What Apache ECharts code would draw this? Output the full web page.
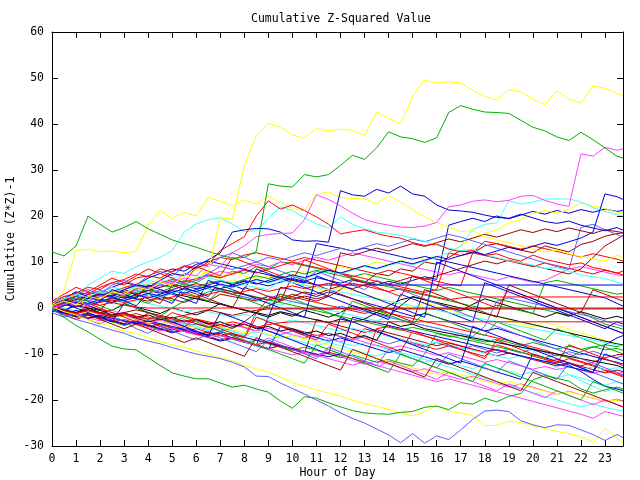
<!DOCTYPE html>
<html>
<head>
<meta charset="utf-8">
<title>Cumulative Z-Squared Value</title>
<script src="https://cdn.jsdelivr.net/npm/echarts@6/dist/echarts.min.js"></script>
<style>
html, body { margin: 0; padding: 0; background: #fff; }
#main { width: 640px; height: 480px; }
</style>
</head>
<body>
<div id="main"></div>
<script>
// sample times (hours), one reading every half hour plus the last quarter
const hours = [0,0.5,1,1.5,2,2.5,3,3.5,4,4.5,5,5.5,6,6.5,7,7.5,8,8.5,9,9.5,10,10.5,11,11.5,
  12,12.5,13,13.5,14,14.5,15,15.5,16,16.5,17,17.5,18,18.5,19,19.5,20,20.5,21,21.5,22,22.5,23,23.5,23.75];
const xTicks = [0,1,2,3,4,5,6,7,8,9,10,11,12,13,14,15,16,17,18,19,20,21,22,23];
const yTicks = [-30,-20,-10,0,10,20,30,40,50,60];

// colours
const RED = '#ff0000', GREEN = '#00b000', BLUE = '#0000d8', MAGENTA = '#ff40ff', CYAN = '#40ffff',
      DARKRED = '#a00000', YELLOW = '#ffff00', BLACK = '#000000', SLATE = '#6060ff';

// the lines that stand out
const yTop = [0.5,1.5,0.8,2.5,2,3.5,3,4.5,
  4,5.5,5,7,6.5,8,19.6,19.3,
  31,37.5,40.2,39.3,37.6,37,39,38.5,
  38.9,38.6,37.5,42.6,41.2,40,46,49.6,
  48.9,49.2,48.9,47.3,46,45.2,47.5,47,
  45.4,44.2,47.2,45.4,44.5,48.3,47.8,46.6, 46.2];
const gTop = [12.2,11.3,13.5,20,18.2,16.5,17.5,18.8,
  17.2,16,14.8,14,13.2,12.3,11.5,10.8,
  11,12.3,27,26.5,26.3,29,28.5,29,
  31,33.2,32.3,34.8,38.3,37.2,36.8,36,
  37,42.5,44,43.2,42.6,42.5,42.3,40.8,
  39.3,38.5,37.2,36.4,38.2,36.6,34.8,33, 32.6];
const mJump = [0,0.8,1.5,0.5,2,3.5,2.8,4.5,
  4,6,5.2,7.5,7,9.5,9,12,
  13.5,15.5,16,16.2,16.3,19.2,24.6,23.6,
  22.2,20.6,19.2,18.5,18,17.6,17.5,17.8,
  18.6,22,22.4,23.2,23.5,23.1,23.4,24.3,
  24.5,23.4,22.6,22.1,33.5,33,34.9,34.3, 34.6];
const gBot = [0,-2,-3.8,-5.2,-6.8,-8.3,-8.9,-9.1,
  -10.8,-12.5,-14.1,-14.8,-15.4,-15.4,-16.3,-17.2,
  -16.8,-17.6,-18.3,-20.2,-21.8,-19.3,-19.6,-20.6,
  -21.5,-22.3,-22.8,-23,-23.1,-22.7,-22.5,-21.6,
  -21.3,-22.1,-20.6,-20.9,-19.6,-20.4,-19.2,-18.6,
  -15.6,-14.7,-15.3,-15.9,-17.6,-18.5,-17.8,-17.2, -17.6];
const bBot = [-0.5,-1.5,-2.5,-3.2,-4,-4.8,-5.5,-6.5,
  -7.2,-7.8,-8.6,-9.3,-10,-10.5,-11,-11.8,
  -12.8,-14.8,-14.9,-16.3,-17.5,-18.7,-20,-21.3,
  -22.8,-24,-25,-26.3,-27.6,-29.3,-27.3,-29.4,
  -27.8,-28.6,-26.5,-24.2,-22.4,-22.2,-22.5,-24.5,
  -25.4,-26,-25.4,-25.5,-26.5,-27.5,-28.8,-27.5, -28.2];
const yBot = [0.3,-0.8,-1.5,-2.6,-3.2,-4.2,-5,-5.5,
  -6.5,-7.3,-8,-8.5,-9.4,-10,-10.8,-11.5,
  -12.5,-13.2,-14,-15,-16.2,-17,-17.8,-18.5,
  -19.2,-20,-20.8,-21.4,-22,-22.8,-23.5,-22.5,
  -21.3,-22.4,-22.8,-23.4,-25.6,-25.5,-24.6,-24.9,
  -25.6,-26.2,-26.8,-27.3,-28,-29.2,-26.2,-28.3, -29.3];
const dbTall = [0.5,1.5,1,2.2,3,2.5,4,5,
  4.5,6,7.5,7,9,10.5,12,16.5,
  17,17.3,17.2,16.5,14.8,14.5,14.6,14.3,
  25.5,24.6,24.3,25.8,25,26.5,24.8,24.3,
  22.4,21.3,21.1,20.8,20.2,19.7,19.5,20.4,
  19.6,18.8,18.4,18.9,18,17.4,16.8,17.5, 16.9];
const dbJump = [-0.5,0.5,1.2,0.6,1.4,2.2,1.6,2.4,
  3.2,2.6,3.4,4.2,3.6,4.4,5.2,4.6,
  5.4,6.2,5.6,6.4,7.2,6.6,7.4,8.2,
  7.6,8.4,9.2,8.6,9.4,10.2,9.6,10.4,
  11.2,10.6,11.4,12.2,11.6,12.4,13.2,12.6,
  13.4,14.2,13.6,14.4,15.2,16.5,24.8,24.2, 23.6];
const cUp = [1,2,3,5,6.5,8,7.5,9,
  10,11,12.5,16.5,18.3,19.2,19.6,18.3,
  16.6,16.8,19.5,22,21.2,19.6,18.3,17.4,
  19.8,18.2,17.2,16.5,16.2,15.8,15.2,14.5,
  13.6,13,12.4,12.8,11.5,11,10.3,9.8,
  9.3,8.6,8.8,8,7.2,6.8,6.4,5.6, 5.3];
const cRight = [-0.3,0.5,1.2,0.6,1.4,2.2,1.6,2.4,
  3,2.4,3.2,4,3.4,4.2,5,4.4,
  5.2,6,5.4,6.2,7,6.4,7.2,8,
  7.4,8.2,9,8.4,9.2,10,9.4,10.2,
  11,12,13.5,17,18.2,18.5,23.3,22.6,
  23,23.7,23.7,23.7,23.1,21.8,21,20.3, 20];
const yMid = [0.5,4,12.5,12.8,12.2,12.4,12,12.3,
  18,21.2,19.5,20.8,20,24,23.2,22.2,
  23.5,22.6,24.3,23,21.6,21.2,24.8,25.2,
  24,23.8,23.7,22.6,24.5,23,21.3,19.8,
  18.5,17.6,16.6,16.8,15.5,14.8,14.2,13.5,
  12.8,12.2,12.6,11.8,11.2,10.7,10.2,11.5, 11];
const rUp = [1,2.5,3.2,4.5,4,5.5,6.2,7.4,
  6.8,8.5,7.8,9.2,8.8,9.5,12.5,14,
  15.5,20,23.3,21.5,22.4,21.2,19.8,18.2,
  16.1,16.6,17,16.2,15.6,15.2,14.2,13.6,
  13.9,12.8,12.2,12.5,11.4,11.8,10.8,10.2,
  11.5,10.6,10,9.4,9.8,8.8,8.3,7.6, 7.2];

// lines that go flat
const hBlue5 = [0,0.8,0.2,1,1.8,1.2,2,2.8,
  2.2,3,3.8,3.2,4,4.8,4.2,5,
  5.8,5.2,6,6.8,6.2,5.6,5,5,
  5,5,5,5,5,5,5,5,
  5,5,5,5,5,5,5,5,
  5,5,5,5,5,5,5,5, 5];
const hRed25 = [0,0.6,1.2,0.6,1.2,1.8,1.2,1.8,
  2.4,1.8,2.4,3,2.4,3,3.6,3,
  3.6,4.2,3.6,4.2,4.8,4.2,4.8,5.4,
  4.8,5.4,4.8,4.2,3.6,4.2,3.6,3,
  2.4,1.8,2.2,2.4,2.4,2.4,2.4,2.4,
  2.4,2.4,2.4,2.4,2.4,2.4,2.4,2.4, 2.4];
const hRed0 = [0.5,1,0.4,1,0.6,1.2,0.6,0.2,
  0,0,0,0,0,0,0,0,
  0,0,0,0,0,0,0,0,
  0,0,0,0,0,0,0,0,
  0,0,0,0,0,0,0,0,
  0,0,0,0,0,0,0,0, 0];
const hDark0 = [0,-0.5,-1,-0.4,-1,-1.6,-1,-0.4,
  -1,-1.6,-2.2,-1.6,-1,-0.4,-1,-1.6,
  -1,-0.5,-0.2,-0.2,-0.2,-0.2,-0.2,-0.2,
  -0.2,-0.2,-0.2,-0.2,-0.2,-0.2,-0.2,-0.2,
  -0.2,-0.2,-0.2,-0.2,-0.2,-0.2,-0.2,-0.2,
  -0.2,-0.2,-0.2,-0.2,-0.2,-0.2,-0.2,-0.2, -0.2];
const hRed3 = [0,-0.6,-1.2,-0.6,-1.2,-1.8,-1.2,-1.8,
  -2.4,-1.8,-2.4,-3,-2.4,-3,-3.6,-3,
  -3.6,-4.2,-3.6,-3.2,-3,-3,-3,-3,
  -3,-3,-3,-3,-3,-3,-3,-3,
  -3,-3,-3,-3,-3,-3,-3,-3,
  -3,-3,-3,-3,-3,-3,-3,-3, -3];

// the tangle
const p1 = [0,-0.5,-1,0.5,-0.3,-1,-1.8,-1.2,
  -2,-2.8,-1,-1.8,-2.5,-3.2,-4,-3.5,
  -4.2,-5,-3,-3.8,-4.5,-5.2,-6,-5.5,
  -6.2,-7,-4.5,-5.2,-6,-6.8,-7.5,-8.3,
  -9,-8.2,-9,-9.8,-10.5,-8,-8.8,-9.6,
  -10.4,-11.2,-12,-11,-11.8,-12.6,-13.4,-14.2, -14.8];
const p2 = [0.5,1.2,2,1.5,2.8,3.5,3,4.2,
  4,5,4.5,6,5.5,7,6.5,8,
  7.5,9,8.5,10,9.8,9.2,8.6,8,
  7.4,6.8,7.5,6.8,6.2,5.6,5,4.4,
  3.8,4.5,3.8,3.2,2.6,2,1.4,0.8,
  0.2,-0.4,-1,-1.6,-1,-2.2,-3.5,-4.2, -4.6];
const p3 = [-0.5,-1.2,-0.5,-1.5,-2.2,-1.8,-2.8,-3.5,
  -3,-4,-4.8,-4.2,-5.2,-6,-5.5,-6.5,
  -7.2,-8,-2,4.5,4,3.2,2.5,3.5,
  2.8,2,1.2,0.5,-0.2,-1,-1.8,-1.2,
  -2,-2.8,-3.5,-4.2,-5,-4.4,-5.2,-6,
  -6.8,-7.5,-8.2,-9,-9.8,-10.5,-11.2,-11.8, -12.2];
const p4 = [0,-0.8,-1.5,-1.2,-2,-2.8,-3.5,-3,
  -3.8,-4.5,-5.2,-4.6,-5.4,-6.2,-7,-6.4,
  -7.2,-8,-8.8,-8.2,-9,-9.8,-10.5,-9.8,
  -10.6,-11.4,-12.2,-11.5,-12.2,-13,-13.8,-13.2,
  -14,-14.8,-15.5,-14.8,-15.6,-16.4,-17.2,-16.5,
  -17.2,-18,-18.8,-18.1,-18.9,-19.6,-20.4,-19.8, -20.2];
const p5 = [0.5,0,-0.8,-0.2,-1,-1.8,-1.2,-2,
  -2.8,-3.5,-2.5,-3.2,-4,-4.8,-4.2,-5,
  -5.8,-6.5,-7.2,-6,-6.8,-7.5,-8.2,-7.5,
  -8.2,-9,-9.8,-10.5,-9.5,-10.2,-11,-11.8,
  -11,-11.8,-12.5,-13.2,-12.2,-13,-13.8,-14.5,
  -13.8,-14.5,-15.2,-14.5,-15.2,-16,-16.8,-16, -16.4];
const p6 = [0,0.8,1.5,1,2,1.5,2.5,2,
  1.5,2.5,2,1.2,2.2,1.5,3,2.5,
  2,1.5,2.5,1.8,3,2.2,1.5,2.5,
  4,6,5.5,7.5,7,8.5,8,10,
  9.5,11,12.5,12,13.5,14,13.2,12.6,
  12,13.5,12.8,12.2,13.8,14.5,15.6,16.2, 16.3];
const p7 = [0.5,1.5,1,2.5,3.5,3,4.5,5.5,
  5,6.5,7.5,7,8.2,7.5,6.8,7.8,
  7,6.2,5.5,6.5,5.8,5,4.2,3.5,
  4.5,3.8,3,2.2,1.5,0.8,0,1.2,
  0.4,-0.4,-1.2,-2,-1,-1.8,-2.6,-3.4,
  -4.2,-3,-3.8,-4.6,-5.4,-6.2,-7,-7.8, -8.2];
const p8 = [0,-0.5,0.5,0,-1,-0.5,0.8,0.2,
  -0.5,-1.2,0,-0.8,-1.5,-0.5,1,0.2,
  -0.5,-1.2,-2,-1,-1.8,-0.5,-1.2,-2,
  -1,0.5,-0.2,-1,-1.8,0.5,2.5,1.8,
  1,0.2,-0.6,0.8,2,1.2,0.4,-0.4,
  -1.2,-2,-1,-1.8,-0.8,-1.6,-2.4,-1.8, -2.2];
const p9 = [0.5,-0.2,-1,-0.5,-1.3,-2,-1.5,-2.3,
  -3,-2.4,-3.2,-4,-3.5,-4.2,-5,-4.4,
  -3.5,-4.3,-5,-5.8,-5,-5.8,-6.5,-5.5,
  -6.2,-7,-6.2,-7,-7.8,-7,-7.8,-8.5,
  -7.5,-8.3,-9,-8.2,-9,-9.8,-9,-9.8,
  -8.8,-9.6,-10.4,-9.5,-10.2,-9.4,-10.2,-10.8, -10.4];
const p10 = [1,2,3.5,3,4.5,5.5,5,6.5,
  7,6.5,8,9,8.5,10,11,10.5,
  11.5,12,11.4,10.8,10.2,11,10.4,9.8,
  9.2,8.6,8,7.4,8.2,7.6,7,6.4,
  5.8,5.2,4.8,12,14.5,14,13.4,12.8,
  13.5,12.9,12.3,11.7,11.1,11.8,11.2,10.6, 10.2];
const p11 = [-0.5,-1.2,-2,-1.5,-2.3,-3,-3.8,-3.2,
  -4,-4.8,-4.2,-5,-5.8,-5.2,-6,-6.8,
  -7.5,-7,-7.8,-8.5,-9.2,-8.5,-9.2,-10,
  -10.8,-10.2,-11,-11.8,-11.2,-12,-12.6,-10,
  -5.5,-6.2,-6,-6.8,-7.4,-6.8,-7.5,-8.2,
  -7.5,-8.2,-8.9,-8.3,-9,-8.4,-9.1,-8.8, -9.2];
const p12 = [0,0.8,1.5,1,2,2.8,2.2,3,
  3.8,3.2,4,4.8,4.2,5,5.8,5.2,
  6,5.4,4.8,5.6,6.4,5.8,6.6,6,
  5.4,6.2,5.6,5,5.8,5.2,6,6.8,
  6.2,18,18.8,19.5,18.8,20,19.4,20.2,
  21,20.4,21.2,20.6,21.4,20.8,21.5,21, 21.2];
const p13 = [0,-0.6,-1.2,-0.5,-1.1,-1.8,-1.2,-1.9,
  -2.6,-2,-2.7,-3.4,-2.8,-3.5,-4.2,-3.6,
  -4.3,-5,-4.4,-5.1,-5.8,-6.5,-5.9,-6.6,
  -7.3,-6.7,-7.4,-8.1,-8.8,-8.2,-8.9,-9.6,
  -10.3,-9.7,-10.4,-11.1,-11.8,-11.2,-11.9,-12.6,
  -13.3,-12.7,-13.4,-12.8,-13.5,-14.2,-13.6,-14.3, -14];
const p14 = [0.5,1.5,2.5,2,3,4,3.5,4.5,
  5.5,5,6,5.4,4.8,4.2,3.6,3,
  2.4,1.8,1.2,0.6,1.4,0.8,0.2,-0.4,
  -1,-1.6,-2.2,-2.8,-2,-2.6,-3.2,-3.8,
  -4.4,-5,-5.6,-6.2,-6.8,-7.4,-8,-8.6,
  -9.2,-11.5,-13,-14.5,-15.8,-17,-18.2,-17.5, -17.8];
const p15 = [0,-0.8,-1.5,-2.3,-1.8,-2.6,-3.4,-2.8,
  -3.6,-4.4,-5.2,-4.6,-5.4,-6.2,-7,-6.4,
  -7.2,-8,-8.8,-8.2,-9,-9.8,-2.5,-3.2,
  -3.9,-4.6,-5.3,-4.7,-5.4,-6.1,-6.8,-7.5,
  -8.2,-7.6,-8.3,-9,-9.7,-10.4,-9.8,-10.5,
  -11.2,-11.9,-12.6,-12,-12.7,-13.4,-14.1,-13.5, -13.8];
const p16 = [0,1,0.5,1.8,2.6,2,3,2.4,
  3.2,4,3.4,4.2,5,4.4,5.2,6,
  5.4,6.2,7,6.4,7.2,8,7.4,8.2,
  9,8.4,9.2,10,9.4,10.2,11,10.4,
  11.2,12,13.5,15,16.2,17,18.5,19.2,
  20.5,21.2,20.6,21.4,22.8,22.2,21.6,20.8, 20.6];
const p17 = [-0.5,-1.2,-2,-1.5,-2.3,-3,-2.5,-3.3,
  -4,-3.5,-4.3,-5,-4.5,-5.3,-6,-5.5,
  -6.2,-1,2,3,2.4,1.8,1.2,0.6,
  0,-0.6,-1.2,-0.5,-1.1,-1.7,-2.3,-2.9,
  -3.5,-4.1,-4.7,-5.3,-5.9,-6.5,-7.1,-7.8,
  -8.5,-9.2,-10,-10.8,-11.6,-12.4,-13.6,-14.5, -15];
const p18 = [0.5,1.2,2,1.5,2.5,3.2,2.6,3.4,
  4,3.5,4.5,5.2,4.6,5.4,6,5.4,
  6.2,7,6.4,7.2,8,7.4,8.2,7.6,
  7,6.4,5.8,5.2,4.6,4,3.4,2.8,
  2.2,1.6,1,0.4,-0.2,0.6,0,-0.6,
  -1.2,5.5,6,5.4,4.8,4.2,3.6,3, 3.2];
const p19 = [-0.5,-1,-1.8,-1.2,-2,-2.8,-3.6,-3,
  -3.8,-4.6,-5.4,-4.8,-5.6,-6.4,-7.2,-6.6,
  -7.4,-8.2,-9,-4,-4.8,-5.6,-6.4,-7.2,
  -6.5,-7.3,-8.1,-8.9,-9.7,-9,-9.8,-10.6,
  -11.4,-12.2,-11.5,-12.3,-13.1,-13.9,-14.7,-15.5,
  -10,-10.8,-11.6,-12.4,-13.8,-15.5,-17,-17.6, -18];
const p20 = [0.5,1,2,1.5,2.5,3.5,3,4,
  5,4.5,5.5,6.5,6,7,8,7.5,
  8.5,9.5,9,10,9.4,10.4,11,10.4,
  11.2,12,11.4,10.8,10.2,9.6,9,8.4,
  7.8,7.2,7.8,7.2,6.6,6,6.8,6.2,
  5.6,6,7.2,8.5,9,8.4,7.8,7.2, 7];
const p21 = [0,-0.6,-1.2,-0.6,-1.3,-2,-2.7,-2.1,
  -2.8,-3.5,-2.9,-3.6,-4.3,-5,-4.4,-5.1,
  -5.8,-5.2,-5.9,-6.6,-6,-6.7,-7.4,-6.8,
  -7.5,-8.2,-7.6,-8.3,-9,-9.7,-10.4,-11.2,
  -12,-12.8,-13.6,-14.4,-15.2,-16,-16.8,-17.6,
  -18.4,-19.2,-20,-20.8,-21.5,-20.8,-21.6,-22.2, -22.4];
const p22 = [1,1.8,1.2,2,2.8,2.2,3,3.8,
  3.2,4,3.4,4.2,4.8,4.2,3.6,3,
  2.4,1.8,2.6,2,1.4,0.8,0.2,-0.4,
  0.4,-0.2,-0.8,-1.4,-2,-2.6,-3.2,-3.8,
  -4.4,-5,-5.6,-6.2,-4,1.5,2.2,1.6,
  1,0.4,-0.2,-0.8,-1.4,-2,-2.8,-3.6, -4];
const p23 = [0,-0.5,-1,-0.4,-1.2,-2,-1.4,-2.2,
  -3,-2.4,-3.2,-2.6,-3.4,-4.2,-3.6,-4.4,
  -3,-1,0.5,1.5,2.5,3.5,3,4,
  4.8,4.2,5,5.8,5.2,6,6.8,6.2,
  7,7.8,8.6,9.4,10.2,9.6,10.4,9.8,
  9.2,8.6,8,7.4,8.5,11,13.5,15, 15.8];
const p24 = [0,0.6,1.2,0.6,1.4,2.2,1.6,2.4,
  3,2.4,3.2,2.6,2,1.4,0.8,0.2,
  -0.4,-1,-1.6,-0.8,-1.4,-2,-2.6,-3.2,
  -2.4,-3,-2.4,-1,0.5,1.8,2.4,1.8,
  1.2,0.6,0,-0.6,-1.2,-1.8,-2.4,-3,
  -3.6,-4.2,-4.8,-5.4,-6,-6.6,-7.2,-7.8, -8];
const p25 = [0,-0.7,-1.4,-2.1,-1.5,-2.2,-2.9,-3.6,
  -3,-3.7,-4.4,-5.1,-5.8,-5.2,-5.9,-6.6,
  -7.3,-8,-7.4,-8.1,-8.8,-9.5,-10.2,-9.6,
  -10.3,-11,-11.7,-4.5,-4,-4.7,-5.4,-6.1,
  -6.8,-7.5,-8.2,-8.9,-9.6,-9,-9.7,-10.4,
  -11.1,-11.8,-11.2,-11.9,-12.6,-11.8,-10.8,-10.2, -10];
const p26 = [0.5,1.5,2.5,2,3.5,4.5,5.5,5,
  6.5,7.5,8.5,8,9.5,10.2,9.6,9,
  8.4,7.8,7.2,6.6,6,5.4,14,13.5,
  13,12.4,13,12.4,11.8,11.2,10.6,11.2,
  10.6,10,9.4,8.8,8.2,7.6,7,6.4,
  5.8,5.2,4.6,4,3.4,2.8,2.2,1, 0.4];
const p27 = [0,-0.6,-1.2,-0.8,-1.5,-2.2,-1.8,-2.5,
  -3.2,-2.8,-3.5,-4.2,-3.8,-4.5,-4,-4.7,
  -5.4,-5,-5.7,-6.4,-6,-6.7,-7.4,-8.1,
  -8.8,-9.5,-10.2,-10.9,-11.6,-12.3,-13,-13.7,
  -14.4,-13.8,-14.5,-15.2,-15.9,-16.6,-16,-16.7,
  -17.4,-18.1,-18.8,-18.2,-18.9,-19.6,-20.3,-20, -20.4];
const p28 = [0,-0.5,-1,-0.5,-1.1,-1.7,-1.2,-1.8,
  -2.4,-1.8,0,1.5,2.5,3.5,4.2,3.6,
  3,2.4,1.8,1.2,0.6,0,-0.6,-1.2,
  -1.8,-2.4,-3,-3.6,-4.2,-4.8,-4.2,-4.8,
  -5.4,-6,-6.6,-7.2,-7.8,-8.4,-9,-9.6,
  -10.2,-10.8,-10.2,-10.8,-9.5,-8.5,-8,-8.4, -8];
const p29 = [0,-0.7,-1.4,-2.1,-2.8,-2.2,-2.9,-3.6,
  -4.3,-5,-4.4,-5.1,-5.8,-6.5,-6,-6.7,
  -7.4,-8.1,-8.8,-9.5,-10.2,-9.6,-10.3,-11,
  -11.7,-12.4,-11.8,-12.5,-13.2,-13.9,-14.6,-15.3,
  -16,-15.4,-16.1,-16.8,-17.5,-18.2,-18.9,-19.6,
  -20.3,-21,-21.7,-22.4,-23.1,-24,-22.5,-23.2, -23.5];
const p30 = [0.5,1,1.8,1.2,2,1.4,0.8,1.6,
  1,0.4,-0.2,-0.8,-0.2,-0.8,-1.4,-2,
  -1.4,-2,-2.6,-3.2,-2.6,-3.2,-3.8,-4.4,
  -5,-4.4,-5,-5.6,-6.2,-6.8,-7.4,-8,
  -7.4,-8,-8.6,-9.2,-9.8,-10.4,-11,-10.4,
  -11,-11.6,-12.2,-12.8,-13.4,-12.8,-13.4,-13, -13.2];
const p31 = [1,1.8,2.6,3.4,2.8,3.6,4.4,5.2,
  4.6,5.4,6.2,5.6,6.4,7.2,6.6,7.4,
  8.2,7.6,8.4,9.2,10,9.4,8.8,8.2,
  7.6,7,6.4,5.8,5.2,4.6,4,3.4,
  4,12,11.4,12,11.4,10.8,10.2,9.6,
  9,9.8,9.2,8.6,8,7.4,8.2,7.6, 8];
const p32 = [-0.5,-1,-1.6,-2.2,-1.6,-2.2,-2.8,-3.4,
  -2.8,-3.4,-4,-4.6,-5.2,-5.8,-5.2,-5.8,
  -6.4,-7,-7.6,-8.2,-8.8,-9.4,-10,-10.6,
  -10,-2,-2.6,-3.2,-3.8,-4.4,-5,-5.6,
  -6.2,-6.8,-7.4,-8,-8.6,-9.2,-9.8,-10.4,
  -11,-11.6,-12.2,-12.8,-13.4,-14,-8,-6.5, -6];
const p33 = [1.5,2.5,2,3,3.8,3.2,4,4.8,
  4.2,5,5.8,5.2,6,7.5,9,8.4,
  9.2,10,11,10.4,11.2,12,11.4,12.2,
  13,12.4,13.2,14,13.4,14.2,15,14.4,
  15.2,16,15.4,14.6,13.8,13,12.2,11.4,
  10.6,9.8,9,8.4,17.5,18.2,17,16, 15.4];
const p34 = [0.5,1.2,1.8,2.5,2,2.8,3.5,3,
  3.8,4.5,5.2,4.6,5.3,4.7,4.1,3.5,
  2.9,2.3,1.7,2.5,1.9,2.6,2,2.7,
  12,11.4,12.2,13,12.4,13.2,14,13.4,
  14.2,15,14.4,15.2,16,15.4,16.2,17,
  16.4,17.2,16.6,17.4,16.8,16.2,17,16.6, 16.4];
const q1 = [0,-1,1.5,0.5,-0.5,2.5,1.5,0.5,
  3,2,1,4.5,3.5,2.5,6,5,
  4,8.5,7.5,6.5,5.5,4.5,3.5,2.5,
  1.5,0.5,-0.5,-1.5,-2.5,3,2,1,
  0,-1,-2,-3,5.5,4.5,3.5,2.5,
  1.5,0.5,-0.5,-1.5,-2.5,-3.5,-4.5,-3, -3.5];
const q2 = [0.5,-0.5,-1.5,1,0,-1,-2,-3,
  -1,-2,-3,-4,-2.5,-3.5,-4.5,-5.5,
  -6.5,-2,-3,-4,-5,-6,-7,-3.5,
  -4.5,-5.5,-6.5,-7.5,-8.5,-9.5,-5,-6,
  -7,-8,-9,-10,-11,-7,-8,-9,
  -10,-11,-12,-8,-9,-10,-11,-12, -12.5];
const q3 = [1,2,1,3,2,1,4,3,
  2,1,5,4,3,2,1,0,
  4.5,3.5,2.5,1.5,7,6,5,4,
  3,2,1,0,-1,-2,-3,4,
  3,2,1,0,-1,-2,5,4,
  3,2,1,0,-1,4,3,2, 1.5];
const q4 = [-1,-2,-1,-2.5,-3.5,-2,-3,-4.5,
  -5.5,-4,-5,-6,-7,-5.5,-6.5,-7.5,
  -8.5,-9.5,-7,-8,-9,-10,-11,-8.5,
  -9.5,-10.5,-11.5,-12.5,-9,-10,-11,-12,
  -13,-10,-11,-12,-13,-14,-11.5,-12.5,
  -13.5,-14.5,-15.5,-12,-13,-14,-15,-16, -16.5];
const q5 = [0,1,0,-1,-2,-3,1,0,
  -1,-2,-3,-4,-5,-6,-1,-2,
  -3,-4,-5,-6,-7,-8,-9,-10,
  -2,-3,-4,-5,-6,-7,-8,-9,
  -10,-11,-12,-4,-5,-6,-7,-8,
  -9,-10,-11,-12,-13,-14,-10,-11, -11.5];
const q6 = [0,0.5,1.5,0.5,2,1,3,2,
  1,2.5,1.5,3.5,2.5,1.5,4,3,
  2,1,0,3,2,1,0,-1,
  -2,1.5,0.5,-0.5,-1.5,-2.5,-3.5,-1,
  -2,-3,-4,-5,-6,-3,-4,-5,
  -6,-7,-4.5,-5.5,-6.5,-7.5,-8.5,-9.5, -10];
const q7 = [0.5,1.5,0.5,-0.5,-1.5,-0.5,-1.5,-2.5,
  -3.5,-2.5,-3.5,-4.5,-5.5,-4,-5,-6,
  -7,-8,-6.5,-7.5,-8.5,-9.5,-10.5,-9,
  -10,-11,-12,-13,-11.5,-12.5,-13.5,-14.5,
  -15.5,-14,-15,-16,-17,-18,-16.5,-17.5,
  -18.5,-19.5,-18,-19,-20,-21,-20,-21, -21.5];
const q8 = [0,-0.5,-1,0,-0.5,-1.5,-1,-2,
  -1.5,-2.5,-2,-3,-2.5,-3.5,-3,-4,
  -3.5,-4.5,-4,-5,-4.5,-5.5,-5,-6,
  -5.5,-6.5,-6,-7,-3,-4,-3.5,-4.5,
  -5,-5.5,-6,-6.5,-7,-7.5,-8,-8.5,
  -9,-9.5,-10,-10.5,-11,-11.5,-12,-12.5, -13];
const q9 = [1,2,3,2.5,3.5,4.5,4,5,
  6,5.5,6.5,7.5,7,6.5,6,5.5,
  5,4.5,4,6,5.5,5,4.5,4,
  3.5,3,2.5,2,1.5,1,0.5,0,
  -0.5,-1,-1.5,-2,-2.5,-3,-3.5,-4,
  -4.5,-5,-5.5,-6,-6.5,-7,-7.5,-8, -8.2];
const q10 = [1.5,3,4.5,3.5,5,6.5,5.5,7,
  8.5,7.5,6.5,5.5,9,8,7,11,
  10,9,8,7,6,10.5,9.5,8.5,
  7.5,6.5,5.5,4.5,3.5,2.5,7,6,
  5,4,3,2,1,0,4,3,
  2,1,0,-1,-2,-3,-4,-5, -5.5];
const q11 = [0.5,2,3.5,2.5,1.5,4,3,2,
  5,4,3,2,1,6,5,4,
  3,2,1,0,-1,-2,7,6,
  5,4,3,2,1,0,-1,-2,
  10,9,8,7,6,5,4,3,
  2,1,0,-1,-2,-3,-4,-5, -5.5];
const q12 = [-0.5,-1.5,-2.5,-1.5,-2.5,-3.5,-4.5,-3.5,
  -4.5,-5.5,-6.5,-7.5,-6.5,-7.5,-8.5,-9.5,
  -10.5,-6.5,-7.5,-8.5,-9.5,-10.5,-11.5,-12.5,
  -13.5,-9,-10,-11,-12,-13,-14,-15,
  -11,-12,-13,-14,-15,-16,-17,-18,
  -14,-15,-16,-17,-18,-19,-20,-21, -21.5];
const q13 = [1,2,3,4,3,5,6,5,
  7,8,7,9,10,9,11,12,
  11,10,9,8,7,6,8,7,
  6,5,4,6,5,4,3,2,
  1,0,-1,-2,-3,-4,-5,-6,
  -7,-8,-9,-10,-11,-12,-13,-14, -14.5];
const q14 = [0.5,1,2.5,1.5,0.5,-0.5,1,0,
  -1,-2,-3,-2,-3,-4,-5,-6,
  -7,-8,-9,-10,-11,-12,-8,-9,
  -10,-11,-12,-13,-14,-10,-11,-12,
  -13,-14,-15,-16,-12,-13,-14,-15,
  -16,-17,-18,-19,-20,-16,-17,-18, -18.5];

const lines = [
  ['p1', p1, RED], ['p2', p2, GREEN], ['p3', p3, BLUE], ['p4', p4, MAGENTA], ['p5', p5, CYAN],
  ['p6', p6, DARKRED], ['p7', p7, YELLOW], ['p8', p8, BLACK], ['p9', p9, SLATE], ['p10', p10, RED],
  ['p11', p11, GREEN], ['p12', p12, BLUE], ['p13', p13, MAGENTA], ['p14', p14, CYAN], ['p15', p15, DARKRED],
  ['p16', p16, YELLOW], ['p17', p17, RED], ['p18', p18, GREEN], ['p19', p19, BLUE], ['p20', p20, MAGENTA],
  ['p21', p21, CYAN], ['p22', p22, SLATE], ['p23', p23, DARKRED], ['p24', p24, BLACK], ['p25', p25, RED],
  ['p26', p26, BLUE], ['p27', p27, YELLOW], ['p28', p28, GREEN], ['p29', p29, MAGENTA], ['p30', p30, CYAN],
  ['p31', p31, RED], ['p32', p32, BLUE], ['p33', p33, SLATE], ['p34', p34, DARKRED],
  ['q1', q1, BLUE], ['q2', q2, RED], ['q3', q3, DARKRED], ['q4', q4, SLATE], ['q5', q5, BLUE],
  ['q6', q6, GREEN], ['q7', q7, MAGENTA], ['q8', q8, BLACK], ['q9', q9, CYAN], ['q10', q10, RED],
  ['q11', q11, BLUE], ['q12', q12, DARKRED], ['q13', q13, SLATE], ['q14', q14, GREEN],
  ['hBlue5', hBlue5, BLUE], ['hRed25', hRed25, RED], ['hRed0', hRed0, RED], ['hDark0', hDark0, DARKRED], ['hRed3', hRed3, RED],
  ['cUp', cUp, CYAN], ['cRight', cRight, CYAN], ['yMid', yMid, YELLOW], ['rUp', rUp, RED],
  ['dbTall', dbTall, BLUE], ['dbJump', dbJump, BLUE], ['yBot', yBot, YELLOW], ['bBot', bBot, SLATE],
  ['gBot', gBot, GREEN], ['mJump', mJump, MAGENTA], ['gTop', gTop, GREEN], ['yTop', yTop, YELLOW]
];

const font = 'DejaVu Sans Mono';
const tickText = { fontFamily: font, fontSize: 11.5, color: '#000' };

function xAxisDef(pos) {
  return {
    type: 'value', position: pos, min: 0, max: 23.75, interval: 1,
    axisLine: { onZero: false, lineStyle: { color: '#000', width: 1 } },
    axisTick: { inside: true, length: 6, lineStyle: { color: '#000' } },
    axisLabel: Object.assign({ show: pos === 'bottom', margin: 7,
      formatter: v => (xTicks.indexOf(v) >= 0 ? String(v) : '') }, tickText),
    splitLine: { show: false }
  };
}
function yAxisDef(pos) {
  return {
    type: 'value', position: pos, min: yTicks[0], max: yTicks[yTicks.length - 1], interval: 10,
    axisLine: { onZero: false, lineStyle: { color: '#000', width: 1 } },
    axisTick: { inside: true, length: 6, lineStyle: { color: '#000' } },
    axisLabel: Object.assign({ show: pos === 'left', margin: 8 }, tickText),
    splitLine: { show: false }
  };
}

const xb = xAxisDef('bottom');
xb.name = 'Hour of Day';
xb.nameLocation = 'middle';
xb.nameGap = 21;
xb.nameMoveOverlap = false;
xb.nameTextStyle = tickText;
const yl = yAxisDef('left');
yl.name = 'Cumulative (Z*Z)-1';
yl.nameLocation = 'middle';
yl.nameGap = 35;
yl.nameRotate = 90;
yl.nameMoveOverlap = false;
yl.nameTextStyle = tickText;

const chart = echarts.init(document.getElementById('main'));
chart.setOption({
  animation: false,
  backgroundColor: '#fff',
  title: {
    text: 'Cumulative Z-Squared Value', left: 246, top: 8,
    textStyle: { fontFamily: font, fontSize: 11.5, fontWeight: 'normal', color: '#000' }
  },
  grid: { left: 52, right: 17, top: 32, bottom: 34, containLabel: false, outerBoundsMode: 'none' },
  xAxis: [xb, xAxisDef('top')],
  yAxis: [yl, yAxisDef('right')],
  series: lines.map(([name, vals, color]) => ({
    name: name,
    type: 'line',
    data: hours.map((h, i) => [h, vals[i]]),
    symbol: 'none',
    silent: true,
    lineStyle: { width: 1, color: color },
    itemStyle: { color: color }
  }))
});
</script>
</body>
</html>
